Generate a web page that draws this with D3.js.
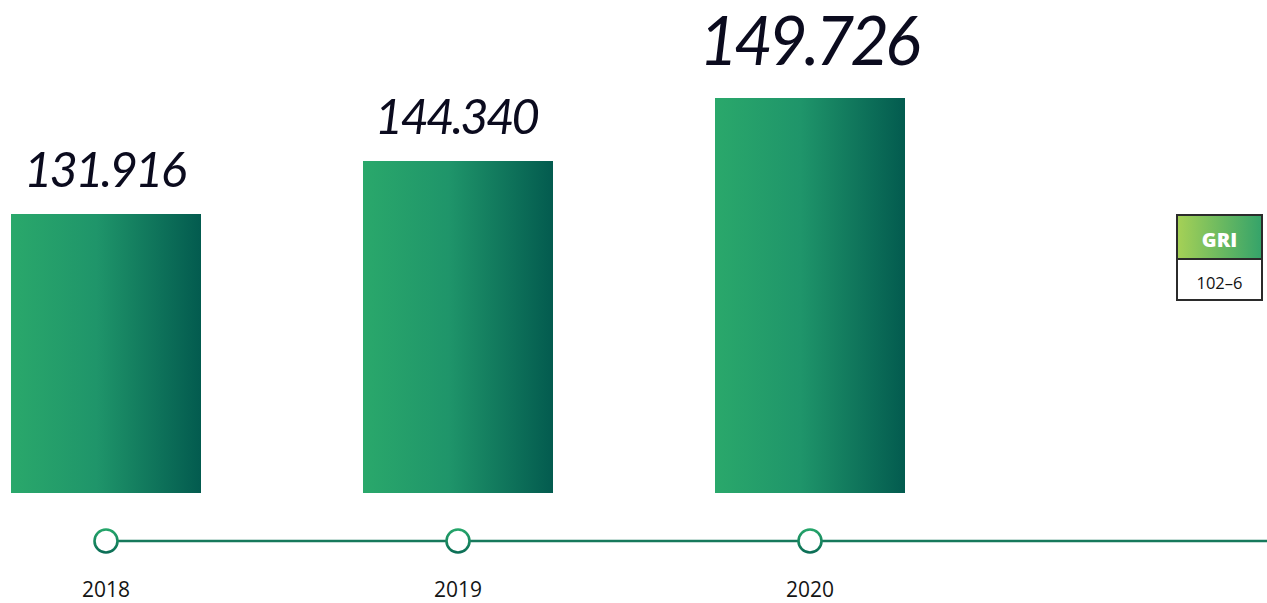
<!DOCTYPE html>
<html>
<head>
<meta charset="utf-8">
<script src="https://cdn.jsdelivr.net/npm/d3@7"></script>
<style>
  html, body { margin: 0; padding: 0; background: #fff; }
  svg { display: block; }
</style>
</head>
<body>
<svg id="chart" width="1267" height="603"></svg>
<script>
const years = ["2018", "2019", "2020"];
const values = [131.916, 144.340, 149.726];
const valueLabels = ["131.916", "144.340", "149.726"];
const griCode = "102–6";

const W = 1267, H = 603;
const svg = d3.select("#chart");
const defs = svg.append("defs");

const barGrad = defs.append("linearGradient").attr("id", "barGrad")
  .attr("x1", "0%").attr("x2", "100%").attr("y1", "0%").attr("y2", "0%");
barGrad.append("stop").attr("offset", "0%").attr("stop-color", "#2aa86b");
barGrad.append("stop").attr("offset", "45%").attr("stop-color", "#1f956a");
barGrad.append("stop").attr("offset", "100%").attr("stop-color", "#035b4f");

const ringGrad = defs.append("linearGradient").attr("id", "ringGrad")
  .attr("x1", "0%").attr("x2", "0%").attr("y1", "0%").attr("y2", "100%");
ringGrad.append("stop").attr("offset", "0%").attr("stop-color", "#25a56a");
ringGrad.append("stop").attr("offset", "100%").attr("stop-color", "#0c6e56");

const griGrad = defs.append("linearGradient").attr("id", "griGrad")
  .attr("x1", "0%").attr("x2", "100%");
griGrad.append("stop").attr("offset", "0%").attr("stop-color", "#a6d156");
griGrad.append("stop").attr("offset", "100%").attr("stop-color", "#34a36a");

// scales
const x = d3.scalePoint().domain(years).range([106, 810]);
const baseY = 493;
// stylised (non-proportional) bar heights as in the source graphic
const y = d3.scaleLinear()
  .domain([0, values[0], values[1], values[2]])
  .range([baseY, 214, 161, 98]);
const barW = 190;

// bars
svg.selectAll("rect.bar").data(values).join("rect")
  .attr("class", "bar")
  .attr("x", (d, i) => x(years[i]) - barW / 2)
  .attr("y", d => y(d))
  .attr("width", barW)
  .attr("height", d => baseY - y(d))
  .attr("fill", "url(#barGrad)");

// value labels
const maxV = d3.max(values);
svg.selectAll("text.val").data(values).join("text")
  .attr("class", "val")
  .attr("x", (d, i) => x(years[i]) - 2)
  .attr("y", d => y(d) - (d === maxV ? 33 : 27))
  .attr("text-anchor", "middle")
  .attr("font-family", "Lato, 'Open Sans', sans-serif")
  .attr("font-style", "italic")
  .attr("font-size", d => d === maxV ? 67 : 49)
  .attr("letter-spacing", d => d === maxV ? -4 : -2.8)
  .attr("fill", "#0b0b1e")
  .text((d, i) => valueLabels[i]);

// timeline
const lineY = 541;
svg.append("line")
  .attr("x1", x(years[0])).attr("x2", W)
  .attr("y1", lineY).attr("y2", lineY)
  .attr("stroke", "#17795c").attr("stroke-width", 2.5);

svg.selectAll("circle.node").data(years).join("circle")
  .attr("class", "node")
  .attr("cx", d => x(d)).attr("cy", lineY).attr("r", 11.5)
  .attr("fill", "#fff")
  .attr("stroke", "url(#ringGrad)").attr("stroke-width", 2.6);

svg.selectAll("text.year").data(years).join("text")
  .attr("class", "year")
  .attr("x", d => x(d)).attr("y", 597)
  .attr("text-anchor", "middle")
  .attr("font-family", "'Open Sans', sans-serif")
  .attr("font-size", 21)
  .attr("fill", "#141414")
  .text(d => d);

// GRI badge
const gx = 1177, gy = 215, gw = 85, gh1 = 44, gh2 = 41;
svg.append("rect").attr("x", gx).attr("y", gy).attr("width", gw).attr("height", gh1)
  .attr("fill", "url(#griGrad)");
svg.append("rect").attr("x", gx).attr("y", gy + gh1).attr("width", gw).attr("height", gh2)
  .attr("fill", "#fff");
svg.append("rect").attr("x", gx).attr("y", gy).attr("width", gw).attr("height", gh1 + gh2)
  .attr("fill", "none").attr("stroke", "#2b2b2b").attr("stroke-width", 2);
svg.append("line").attr("x1", gx).attr("x2", gx + gw)
  .attr("y1", gy + gh1).attr("y2", gy + gh1)
  .attr("stroke", "#2b2b2b").attr("stroke-width", 2);
svg.append("text").attr("x", gx + gw / 2).attr("y", gy + 32)
  .attr("text-anchor", "middle").attr("font-family", "'Open Sans', sans-serif")
  .attr("font-weight", 800).attr("font-size", 20).attr("fill", "#fff")
  .text("GRI");
svg.append("text").attr("x", gx + gw / 2).attr("y", gy + gh1 + 30)
  .attr("text-anchor", "middle").attr("font-family", "'Open Sans', sans-serif")
  .attr("font-size", 16.5).attr("fill", "#111")
  .text(griCode);
</script>
</body>
</html>
